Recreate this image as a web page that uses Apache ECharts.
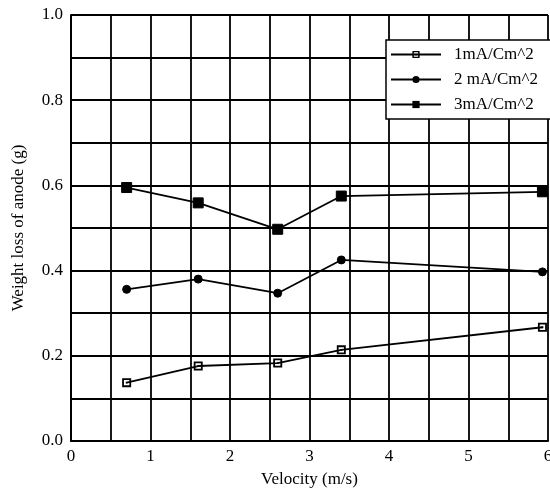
<!DOCTYPE html>
<html><head><meta charset="utf-8">
<script src="https://cdn.jsdelivr.net/npm/echarts@6/dist/echarts.min.js"></script>
<style>html,body{margin:0;padding:0;background:#fff;}#c{width:550px;height:492px;}</style>
</head><body><div id="c"></div>
<script>
var velocity = [0.7, 1.6, 2.6, 3.4, 5.93];
var s1 = [0.137, 0.176, 0.183, 0.214, 0.267];
var s2 = [0.356, 0.380, 0.347, 0.425, 0.397];
var s3 = [0.595, 0.559, 0.497, 0.575, 0.585];
var names = ['1mA/Cm^2', '2 mA/Cm^2', '3mA/Cm^2'];
var xLabels = ['0','1','2','3','4','5','6'];
var yLabels = ['0.0','0.2','0.4','0.6','0.8','1.0'];

function pairs(ys){ return velocity.map(function(v,i){ return [v, ys[i]]; }); }
var font = '"Liberation Serif", "DejaVu Serif", serif';
var openSq = 'path://M0,0 L10,0 L10,10 L0,10 Z M2,2 L2,8 L8,8 L8,2 Z M4,4 L6,4 L6,6 L4,6 Z';
var chart = echarts.init(document.getElementById('c'));
chart.setOption({
  backgroundColor: '#fff',
  animation: false,
  textStyle: {fontFamily: font, color: '#000'},
  grid: {left: 71, top: 15, right: 2, bottom: 51, containLabel: false, outerBoundsMode: 'none'},
  legend: {
    orient: 'vertical', left: 386, top: 40,
    padding: [6, 30, 6, 4],
    backgroundColor: '#fff', borderColor: '#000', borderWidth: 1.5,
    itemWidth: 50, itemHeight: 9, itemGap: 8,
    textStyle: {fontFamily: font, fontSize: 17, color: '#000', padding: [0,0,0,8]},
    data: names
  },
  xAxis: {
    type: 'value', min: 0, max: 6, interval: 0.5,
    name: 'Velocity (m/s)', nameLocation: 'middle', nameGap: 30,
    nameTextStyle: {fontFamily: font, fontSize: 17, color: '#000'},
    axisLine: {show: true, lineStyle: {color: '#000', width: 2}},
    axisTick: {show: false},
    axisLabel: {fontFamily: font, fontSize: 17, color: '#000', margin: 7,
      formatter: function(v){ var i = Math.round(v*2); return i % 2 === 0 ? xLabels[i/2] : ''; }},
    splitLine: {show: true, lineStyle: {color: '#000', width: 1.8}}
  },
  yAxis: {
    type: 'value', min: 0, max: 1, interval: 0.1,
    name: 'Weight loss of anode (g)', nameLocation: 'middle', nameGap: 44,
    nameTextStyle: {fontFamily: font, fontSize: 17, color: '#000'},
    axisLine: {show: true, lineStyle: {color: '#000', width: 2}},
    axisTick: {show: false},
    axisLabel: {fontFamily: font, fontSize: 17, color: '#000', margin: 8,
      formatter: function(v){ var i = Math.round(v*10); return i % 2 === 0 ? yLabels[i/2] : ''; }},
    splitLine: {show: true, lineStyle: {color: '#000', width: 1.8}}
  },
  series: [
    {name: names[0], type: 'line', data: pairs(s1), symbol: openSq, symbolSize: 9,
     lineStyle: {color: '#000', width: 1.8}, itemStyle: {color: '#000', borderWidth: 0}},
    {name: names[1], type: 'line', data: pairs(s2), symbol: 'circle', symbolSize: 8,
     lineStyle: {color: '#000', width: 1.8}, itemStyle: {color: '#000', borderColor: '#000'}},
    {name: names[2], type: 'line', data: pairs(s3), symbol: 'rect', symbolSize: 10,
     lineStyle: {color: '#000', width: 1.8}, itemStyle: {color: '#000', borderColor: '#000'}}
  ]
});
</script></body></html>
